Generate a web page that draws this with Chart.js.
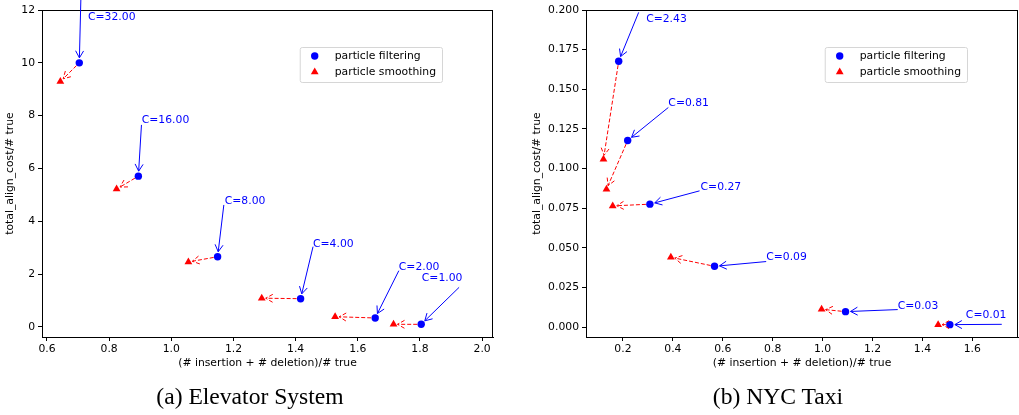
<!DOCTYPE html>
<html>
<head>
<meta charset="utf-8">
<script src="https://cdn.jsdelivr.net/npm/chart.js@4.4.1/dist/chart.umd.min.js"></script>
<style>
  body { margin:0; background:#fff; width:1019px; height:415px; position:relative; overflow:hidden; }
  canvas { position:absolute; top:0; }
  .caption { position:absolute; top:385px; font-family:"Liberation Serif", serif; font-size:23.6px; line-height:23px; color:#000; white-space:nowrap; transform:translateX(-50%); }
</style>
</head>
<body>
<canvas id="elevChart" width="505" height="385" style="left:0px"></canvas>
<canvas id="taxiChart" width="520" height="385" style="left:510px"></canvas>
<div class="caption" style="left:250px">(a) Elevator System</div>
<div class="caption" style="left:778px">(b) NYC Taxi</div>
<script>
// (a) elevator system
const elevLabels = ["C=32.00","C=16.00","C=8.00","C=4.00","C=2.00","C=1.00"];
const elevFilterX = [0.704,0.894,1.149,1.416,1.656,1.804];
const elevFilterY = [10.0,5.71,2.66,1.07,0.34,0.10];
const elevSmoothX = [0.643,0.824,1.055,1.291,1.527,1.715];
const elevSmoothY = [9.29,5.22,2.46,1.09,0.39,0.10];
const elevTextX = [0.732,0.905,1.172,1.456,1.732,1.806];
const elevTextY = [11.74,7.84,4.77,3.14,2.25,1.86];
const elevFromX = [0.709,0.904,1.169,1.456,1.732,1.926];
const elevFromY = [12.39,7.65,4.62,3.04,2.13,1.50];
const elevXTicks = [0.6,0.8,1.0,1.2,1.4,1.6,1.8,2.0];
const elevYTicks = [0,2,4,6,8,10,12];

// (b) nyc taxi
const taxiLabels = ["C=2.43","C=0.81","C=0.27","C=0.09","C=0.03","C=0.01"];
const taxiFilterX = [0.183,0.219,0.308,0.567,1.092,1.510];
const taxiFilterY = [0.1677,0.1177,0.0775,0.0383,0.0097,0.0015];
const taxiSmoothX = [0.122,0.134,0.159,0.392,0.996,1.463];
const taxiSmoothY = [0.1059,0.0869,0.0764,0.0440,0.0112,0.0015];
const taxiTextX = [0.293,0.382,0.511,0.774,1.301,1.574];
const taxiTextY = [0.194,0.141,0.0884,0.0438,0.0131,0.0076];
const taxiFromX = [0.263,0.382,0.507,0.774,1.301,1.718];
const taxiFromY = [0.1985,0.1385,0.0859,0.0413,0.0110,0.0017];
const taxiXTicks = [0.2,0.4,0.6,0.8,1.0,1.2,1.4,1.6];
const taxiYTicks = [0,0.025,0.05,0.075,0.1,0.125,0.15,0.175,0.2];

const seriesNames = ["particle filtering","particle smoothing"];
const FONT = "DejaVu Sans";
const FSIZE = 10.8;

function arrow(ctx, x0, y0, x1, y1, shrinkA, shrinkB, color, dash) {
  const dx = x1 - x0, dy = y1 - y0, len = Math.hypot(dx, dy);
  const ux = dx / len, uy = dy / len;
  const sx = x0 + ux * shrinkA, sy = y0 + uy * shrinkA;
  const ex = x1 - ux * shrinkB, ey = y1 - uy * shrinkB;
  ctx.strokeStyle = color;
  ctx.lineWidth = 1;
  ctx.setLineDash(dash);
  ctx.beginPath();
  ctx.moveTo(sx, sy); ctx.lineTo(ex, ey);
  ctx.stroke();
  const L = 7, W = 4;
  ctx.beginPath();
  ctx.moveTo(ex - ux * L - uy * W, ey - uy * L + ux * W);
  ctx.lineTo(ex, ey);
  ctx.lineTo(ex - ux * L + uy * W, ey - uy * L - ux * W);
  ctx.stroke();
  ctx.setLineDash([]);
}

const annotatePlugin = {
  id: "annotate",
  afterDraw(chart) {
    const a = chart.options.plugins.annotate;
    const {ctx, chartArea, scales} = chart;
    const x = scales.x, y = scales.y;
    ctx.save();
    // top & right spines
    ctx.strokeStyle = "#000";
    ctx.lineWidth = 1;
    ctx.beginPath();
    ctx.moveTo(chartArea.left, Math.round(chartArea.top) + 0.5);
    ctx.lineTo(chartArea.right, Math.round(chartArea.top) + 0.5);
    ctx.moveTo(Math.round(chartArea.right) - 0.5, chartArea.top);
    ctx.lineTo(Math.round(chartArea.right) - 0.5, chartArea.bottom);
    ctx.stroke();

    // arrows + labels
    ctx.font = FSIZE + "px '" + FONT + "'";
    ctx.textBaseline = "middle";
    ctx.textAlign = "left";
    a.labels.forEach((lab, i) => {
      const fx = x.getPixelForValue(a.filterX[i]), fy = y.getPixelForValue(a.filterY[i]);
      const sx = x.getPixelForValue(a.smoothX[i]), sy = y.getPixelForValue(a.smoothY[i]);
      arrow(ctx, fx, fy, sx, sy, 4, 4, "red", [4, 2]);
      arrow(ctx, x.getPixelForValue(a.fromX[i]), y.getPixelForValue(a.fromY[i]), fx, fy, 0, 5, "blue", []);
      ctx.fillStyle = "blue";
      ctx.fillText(lab, x.getPixelForValue(a.textX[i]), y.getPixelForValue(a.textY[i]));
    });

    // legend box
    const tw = Math.max(...chart.data.datasets.map(d => ctx.measureText(d.label).width));
    const bw = 35 + tw + 6, bh = 35;
    const bx = chartArea.right - 51 - bw, by = chartArea.top + 37;
    ctx.fillStyle = "rgba(255,255,255,0.85)";
    ctx.strokeStyle = "#d6d6d6";
    ctx.beginPath();
    ctx.roundRect(bx + 0.5, by + 0.5, bw, bh, 2);
    ctx.fill(); ctx.stroke();
    chart.data.datasets.forEach((d, i) => {
      const my = by + 9 + i * 16, mx = bx + 15;
      ctx.fillStyle = d.backgroundColor;
      ctx.beginPath();
      if (d.pointStyle === "circle") {
        ctx.arc(mx, my, 3.7, 0, Math.PI * 2);
      } else {
        const r = 4.5;
        ctx.moveTo(mx, my - r);
        ctx.lineTo(mx + r * 0.866, my + r / 2);
        ctx.lineTo(mx - r * 0.866, my + r / 2);
        ctx.closePath();
      }
      ctx.fill();
      ctx.fillStyle = "#000";
      ctx.fillText(d.label, bx + 35, my);
    });
    ctx.restore();
  }
};

function makeChart(id, p) {
  const tickFont = {family: FONT, size: FSIZE};
  return new Chart(document.getElementById(id), {
    type: "scatter",
    data: {
      datasets: [
        {label: seriesNames[0], data: p.filterX.map((v, i) => ({x: v, y: p.filterY[i]})),
         pointStyle: "circle", radius: 3.7, backgroundColor: "blue", borderColor: "blue", borderWidth: 0},
        {label: seriesNames[1], data: p.smoothX.map((v, i) => ({x: v, y: p.smoothY[i]})),
         pointStyle: "triangle", radius: 4.5, backgroundColor: "red", borderColor: "red", borderWidth: 0}
      ]
    },
    options: {
      responsive: false,
      animation: false,
      devicePixelRatio: 1,
      clip: false,
      layout: {padding: {top: 10, right: p.padRight, left: 0, bottom: 0}},
      plugins: {
        legend: {display: false},
        tooltip: {enabled: false},
        annotate: p
      },
      scales: {
        x: {
          type: "linear", min: p.xMin, max: p.xMax,
          afterBuildTicks: s => { s.ticks = p.xTicks.map(v => ({value: v})); },
          afterFit: s => { s.height = 48; },
          ticks: {font: tickFont, color: "#000", padding: 2, maxRotation: 0, callback: v => v.toFixed(1)},
          grid: {drawOnChartArea: false, tickLength: 4, color: "#000"},
          border: {color: "#000"},
          title: {display: true, text: "(# insertion + # deletion)/# true", font: tickFont, color: "#000", padding: {top: 2, bottom: 15}}
        },
        y: {
          type: "linear", min: p.yMin, max: p.yMax,
          afterBuildTicks: s => { s.ticks = p.yTicks.map(v => ({value: v})); },
          afterFit: s => { s.width = p.yWidth; },
          ticks: {font: tickFont, color: "#000", padding: 3, callback: p.yFmt},
          grid: {drawOnChartArea: false, tickLength: 4, color: "#000"},
          border: {color: "#000"},
          title: {display: true, text: "total_align_cost/# true", font: tickFont, color: "#000", padding: {top: p.yTitlePad, bottom: 0}}
        }
      }
    },
    plugins: [annotatePlugin]
  });
}

makeChart("elevChart", {
  labels: elevLabels, filterX: elevFilterX, filterY: elevFilterY, smoothX: elevSmoothX, smoothY: elevSmoothY,
  textX: elevTextX, textY: elevTextY, fromX: elevFromX, fromY: elevFromY,
  xTicks: elevXTicks, yTicks: elevYTicks, xMin: 0.584, xMax: 2.035, yMin: -0.38, yMax: 12,
  yWidth: 42, padRight: 12, yTitlePad: 4, yFmt: v => String(v)
});

makeChart("taxiChart", {
  labels: taxiLabels, filterX: taxiFilterX, filterY: taxiFilterY, smoothX: taxiSmoothX, smoothY: taxiSmoothY,
  textX: taxiTextX, textY: taxiTextY, fromX: taxiFromX, fromY: taxiFromY,
  xTicks: taxiXTicks, yTicks: taxiYTicks, xMin: 0.052, xMax: 1.783, yMin: -0.0063, yMax: 0.2,
  yWidth: 76, padRight: 12, yTitlePad: 21, yFmt: v => v.toFixed(3)
});
</script>
</body>
</html>
